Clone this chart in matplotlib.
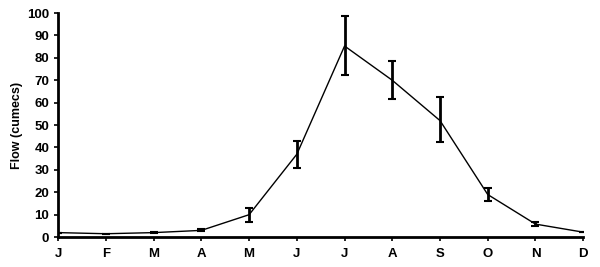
import matplotlib
matplotlib.use("Agg")
import matplotlib.pyplot as plt

months = ["J", "F", "M", "A", "M", "J", "J", "A", "S", "O", "N", "D"]
flow = [2.0, 1.5, 2.0, 3.0, 10.0, 37.0, 85.3, 70.0, 52.0, 19.0, 5.8, 2.2]
err_low = [0.0, 0.0, 0.2, 0.5, 3.2, 6.0, 13.0, 8.3, 9.5, 3.0, 0.8, 0.0]
err_high = [0.0, 0.0, 0.2, 0.5, 3.2, 6.0, 13.3, 8.5, 10.5, 3.0, 0.8, 0.0]
y_label = "Flow (cumecs)"

plt.rcParams['font.family'] = ['Liberation Sans', 'DejaVu Sans']
fig = plt.figure(figsize=(6.0, 2.67), dpi=100)
ax = fig.add_axes([0.097, 0.112, 0.875, 0.839])
x = list(range(len(months)))
ax.plot(x, flow, color="black", lw=1.0)
ax.errorbar(x, flow, yerr=[err_low, err_high], fmt="none", ecolor="black",
            elinewidth=2.0, capsize=3, capthick=1.5)
ax.set_xlim(0, len(months) - 1)
ax.set_ylim(0, 100)
ax.set_yticks(range(0, 101, 10))
ax.set_xticks(x)
ax.set_xticklabels(months)
ax.set_ylabel(y_label, fontsize=9, fontweight="bold", labelpad=3)
for s in ["top", "right"]:
    ax.spines[s].set_visible(False)
for s in ["left", "bottom"]:
    ax.spines[s].set_linewidth(2.0)
ax.tick_params(axis="both", labelsize=9.5, width=1.2, length=3, direction="out")
ax.tick_params(axis="x", pad=5)
for lab in ax.get_xticklabels() + ax.get_yticklabels():
    lab.set_fontweight("bold")
ax.spines["bottom"].set_bounds(0, len(months) - 1)
fig.savefig("out.png", dpi=100)
